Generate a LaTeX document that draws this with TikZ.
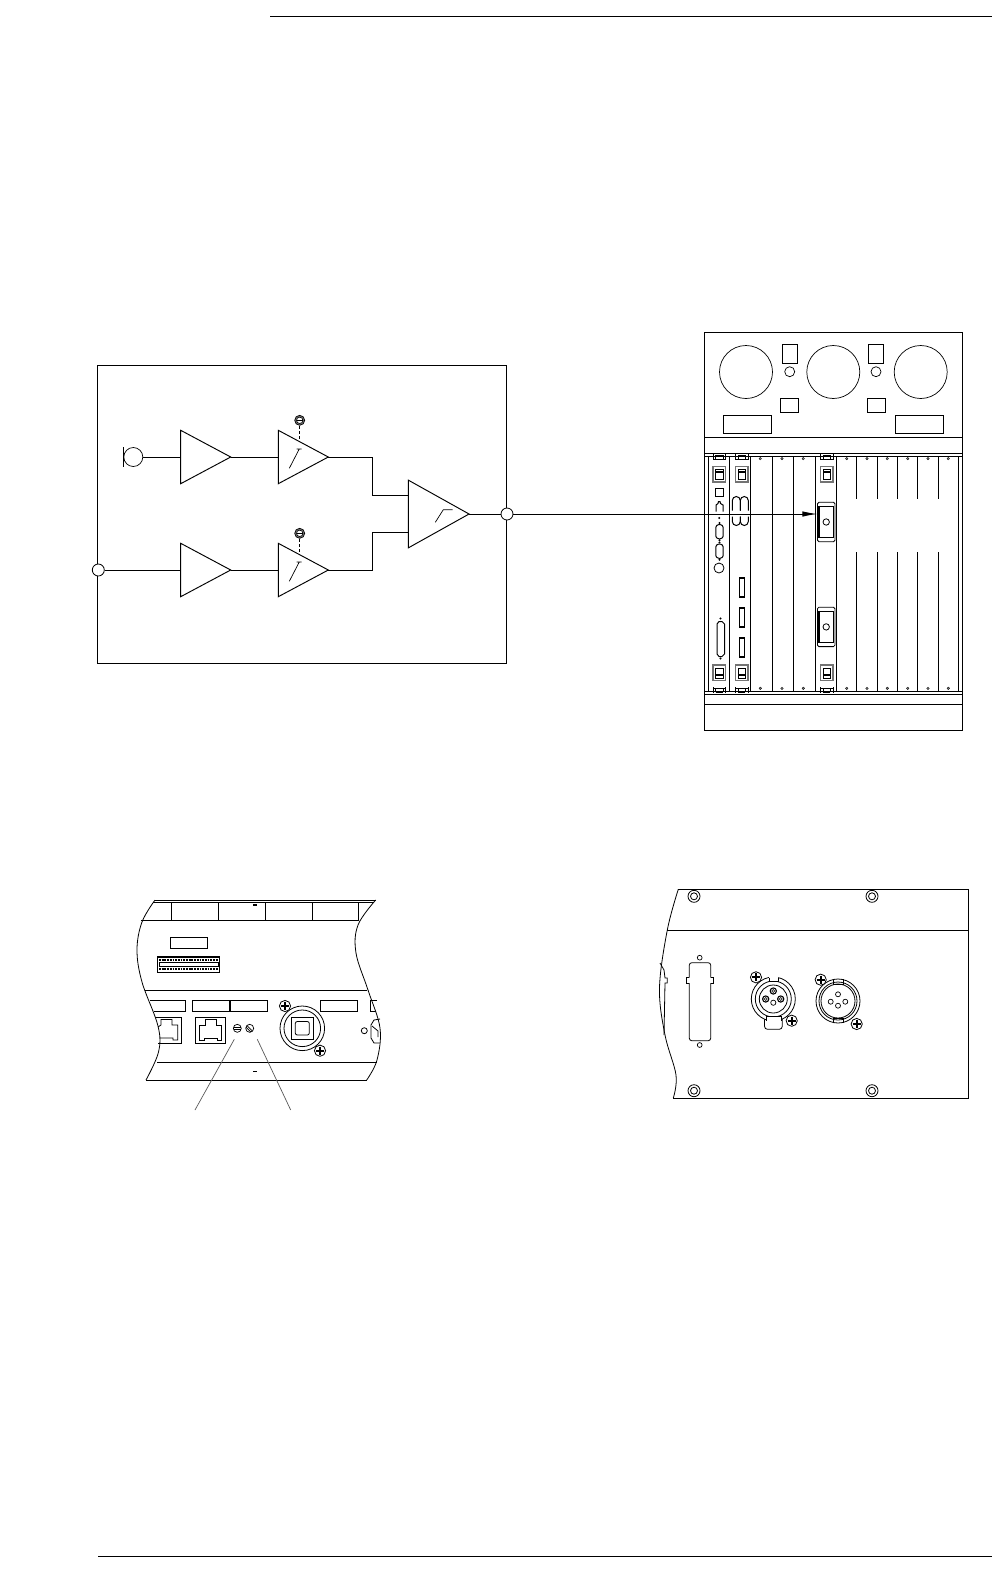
\documentclass[tikz,border=0pt]{standalone}
\usetikzlibrary{arrows.meta}
\tikzset{
  line/.style={draw=black,line width=0.95pt},
  thinline/.style={draw=black,line width=0.8pt},
  leader/.style={draw=black!65,line width=0.7pt},
  port/.style={circle,draw=black,fill=white,line width=0.8pt,inner sep=0pt,minimum size=12pt},
  ampbox/.style={inner sep=0pt,outer sep=0pt},
  hole/.style={draw=black,line width=0.7pt,fill=white},
  dot/.style={draw=black,fill=black!50,line width=0.3pt},
  screwx/.pic={
    \draw[line width=0.8pt,fill=white] (0,0) circle[radius=5.6pt];
    \draw[line width=2pt] (-4,0)--(4,0) (0,-4)--(0,4);
  },
  ringscrew/.pic={
    \draw[line width=0.8pt,fill=white] (0,0) circle[radius=6pt];
    \draw[line width=0.8pt] (0,0) circle[radius=3.5pt];
  },
  slotscrew/.pic={
    \draw[line width=0.7pt,fill=black!55] (0,0) circle[radius=5pt];
    \draw[line width=0.6pt,fill=white] (0,0) circle[radius=3.2pt];
    \draw[line width=1.6pt] (-3,0)--(3,0);
  },
  latch/.pic={
    \draw[draw=black!55,line width=1.1pt] (-6.3,-1.5) rectangle (6.3,14);
    \draw[line width=0.8pt] (-3.6,1) rectangle (3.6,11);
    \draw[line width=1.5pt] (-3.6,4)--(3.6,4);
    \draw[line width=0.9pt] (-6.3,-14)--(-6.3,-8) (6.3,-14)--(6.3,-8);
    \draw[line width=0.8pt] (-6.3,-9)--(6.3,-9) (-3.6,-13)--(3.6,-13) (-3.6,-13)--(-3.6,-9) (3.6,-13)--(3.6,-9);
  },
  dsub/.pic={
    \draw[line width=1pt,rounded corners=1pt] (-3.7,-5.5)--(-1.5,-7.5)--(1.5,-7.5)--(3.7,-5.5)--(3.7,5)--(1.5,6.8)--(-1.5,6.8)--(-3.7,5)--cycle;
    \fill (0,-9) circle[radius=1.1pt] (0,8.3) circle[radius=1.1pt];
  },
  blackd/.pic={
    \draw[line width=1.6pt] (-2.6,-9.5) rectangle (2.6,9.5);
    \fill[white] (-0.9,-7.5) rectangle (0.9,7.5);
  },
  slotmod/.pic={
    \draw[thinline,rounded corners=1.5pt] (-8.8,-19.7) rectangle (8.8,19.7);
    \draw[line width=1.7pt] (-7.3,-15.5) rectangle (7.3,15.5);
    \draw[line width=0.8pt] (0,0) circle[radius=3.2pt];
  }
}
\newcommand{\ampnode}[5]{%
  \node[ampbox,minimum width=#4pt,minimum height=#5pt] (#1) at (#2,#3) {};
  \draw[line,line join=miter] (#1.north west)--(#1.east)--(#1.south west)--cycle;
}
\begin{document}
\begin{tikzpicture}[x=1pt,y=-1pt]
\useasboundingbox (0,0) rectangle (992,1575);
\fill[white] (0,0) rectangle (992,1575);
% page rules
\draw[line width=0.95pt] (270,16)--(992,16);
\draw[line width=0.95pt] (98,1556.4)--(992,1556.4);

% block diagram
\draw[line] (97.3,365) rectangle (506.7,663);
\ampnode{a1}{205.7}{457}{50}{53.4}
\ampnode{a2}{303.3}{457}{50}{53.4}
\ampnode{b1}{205.7}{570}{50}{53.4}
\ampnode{b2}{303.3}{570}{50}{53.4}
\ampnode{mix}{438.7}{514}{60.7}{67.7}
\node[circle,draw=black,line width=0.7pt,inner sep=0pt,minimum size=19pt] (mic) at (133.3,457) {};
\draw[line] (123.3,447)--(123.3,466.7);
\node[port] (in) at (98.3,570) {};
\node[port] (out) at (507,514) {};
\coordinate (mixa) at (408.3,495.3);
\coordinate (mixb) at (408.3,532.3);
\draw[line] (mic.east)--(a1.west);
\draw[line] (a1.east)--(a2.west);
\draw[line] (in.east)--(b1.west);
\draw[line] (b1.east)--(b2.west);
\draw[line] (a2.east)-|(372.3,495.3)--(mixa);
\draw[line] (b2.east)-|(372.3,532.3)--(mixb);
\draw[line] (mix.east)--(out.west);
\foreach \dy in {0,113}{
  \begin{scope}[yshift=-\dy pt]
  \draw[line width=0.7pt] (289.3,468.3)--(299,449.5) (296.7,449)--(301.7,449);
  \draw[line width=0.8pt,dash pattern=on 3pt off 2pt] (299.7,426)--(299.7,442);
  \pic at (299.7,420.3) {slotscrew};
  \end{scope}
}
\draw[line width=0.7pt] (435.3,522.3)--(443.3,509.7)--(452.7,509.7);

% rack
\draw[line] (704.3,332.3) rectangle (962.3,730);
\draw[thinline] (704.3,437.3)--(962.3,437.3);
\draw[thinline] (704.3,453.3)--(962.3,453.3) (704.3,456)--(962.3,456);
\draw[thinline] (704.3,691.7)--(962.3,691.7) (704.3,694.3)--(962.3,694.3);
\draw[thinline] (704.3,704.3)--(962.3,704.3);
\foreach \x in {746,833.3,920.7} \draw[line width=0.7pt] (\x,372) circle[radius=26.5pt];
\foreach \x in {789.7,876} \draw[line width=0.7pt] (\x,371.7) circle[radius=5pt];
\draw[thinline] (782.3,344.3) rectangle (797.3,363.3);
\draw[thinline] (868.3,344.3) rectangle (883.3,363.3);
\draw[thinline] (780.3,398.3) rectangle (798.3,412.3);
\draw[thinline] (867.3,398.3) rectangle (885.3,412.3);
\draw[thinline] (723.3,415.3) rectangle (771.3,433.3);
\draw[thinline] (895.3,415.3) rectangle (943.3,433.3);
\foreach \x in {708.3,729.7,750.7,772.7,793.3,815.7,836.3,958.3}
  \draw[thinline] (\x,456)--(\x,691.7);
\foreach \x in {856.7,877.3,897.3,917.7,938.3}
  \draw[thinline] (\x,456)--(\x,499) (\x,552)--(\x,691.7);
\foreach \x in {760.3,782,803.3,846.7,867,887.3,907.7,928,948.3}{
  \draw[dot] (\x,458.6) circle[radius=1.3pt];
  \draw[dot] (\x,688.3) circle[radius=1.3pt];
}
\foreach \x in {719.3,741.7,826.7}{
  \pic at (\x,468) {latch};
  \pic[yscale=-1] at (\x,679) {latch};
}
\pic at (826.2,522) {slotmod};
\pic at (826.2,626.9) {slotmod};
% left card
\draw[thinline] (715.7,488.3) rectangle (723.7,496.7);
\draw[line width=1pt] (716,511.5)--(716,505)--(718,503.5)--(718.5,501.5)--(720,501.5)--(720.5,503.5)--(723,505)--(723,511.5);
\fill (719.3,518) circle[radius=1.1pt];
\pic at (719.5,532) {dsub};
\pic at (719.5,551.5) {dsub};
\draw[thinline] (719,568) circle[radius=5pt];
\draw[line width=1pt] (717,624)--(719,621.5)--(722,621.5)--(724.5,624)--(724.5,654)--(722,656.5)--(719,656.5)--(717,654)--cycle;
\fill (720.5,618.5) circle[radius=1.2pt] (720.5,658.5) circle[radius=1.2pt];
% second card
\draw[line width=1pt] (732.3,510.5)--(732.3,500.5) arc[start angle=180,end angle=0,radius=4pt]--(740.3,510.5);
\draw[line width=1pt] (740.3,510.5)--(740.3,500.5) arc[start angle=180,end angle=0,radius=4pt]--(748.3,510.5);
\draw[line width=1pt] (732.3,516.7)--(732.3,521.5) arc[start angle=180,end angle=360,radius=4pt]--(740.3,516.7);
\draw[line width=1pt] (740.3,516.7)--(740.3,521.5) arc[start angle=180,end angle=360,radius=4pt]--(748.3,516.7);
\foreach \y in {587.5,617.5,647.5} \pic at (742,\y) {blackd};

% arrow
\coordinate (slot) at (817.3,514);
\draw[line,-{Latex[length=15pt,width=5.5pt]}] (out.east)--(slot);

% lower left panel
\draw[line] (155,900)--(375.7,900);
\draw[thinline] (153,902.6)--(374,902.6);
\draw[line] (141,920)--(358.5,920);
\foreach \x in {171.3,218.7,265.3,312.3,358.3} \draw[thinline] (\x,902.6)--(\x,920);
\draw[line width=1.5pt] (253,905)--(257,905) (253,1071.7)--(257,1071.7);
\draw[thinline] plot[smooth,tension=0.6] coordinates {(155,900)(142,922)(137,950)(142,982)(158,1026)(158.5,1052)(146,1080)};
\draw[thinline] plot[smooth,tension=0.6] coordinates {(375.7,900)(358,925)(356,953)(368,990)(380,1028)(377,1060)(366.7,1080)};
\draw[line] (146,1080)--(366.7,1080);
\draw[line] (157,1062)--(377,1062);
\draw[line] (145,990)--(366.7,990);
\draw[thinline] (170,937.3) rectangle (207.7,948.3);
\draw[line width=1.1pt] (157.3,957) rectangle (219.3,972.3);
\draw[line width=2pt,dash pattern=on 1.8pt off 0.9pt] (159,960.3)--(218,960.3);
\draw[line width=2pt,dash pattern=on 1.8pt off 0.9pt] (159,969.2)--(218,969.2);
\draw[line width=1pt] (159,962.7)--(218,962.7)--(218,966.8)--(159,966.8)--cycle;
\draw[thinline] (150,1000.3)--(185,1000.3)--(185,1011.7)--(154,1011.7);
\draw[thinline] (192.3,1000.3) rectangle (230,1011.7);
\draw[thinline] (230,1000.3) rectangle (267.7,1011.7);
\draw[line width=1.5pt] (230,1000.3)--(230,1011.7);
\draw[thinline] (320,1000.3) rectangle (357.7,1011.7);
\draw[thinline] (377,1000.3)--(370,1000.3)--(370,1011.7)--(376,1011.7);
\draw[thinline] (195,1017) rectangle (225.7,1043.7);
\draw[thinline] (199,1040)--(199,1025)--(205,1025)--(205,1019.5)--(216,1019.5)--(216,1025)--(221.7,1025)--(221.7,1040)--(217,1040)--(217,1038)--(204,1038)--(204,1040)--cycle;
\draw[thinline] (155,1017)--(181.7,1017)--(181.7,1043.7)--(158,1043.7);
\draw[thinline] (158,1027)--(161,1025)--(161,1019.5)--(172,1019.5)--(172,1025)--(177.7,1025)--(177.7,1040)--(173,1040)--(173,1038)--(159,1038);
\draw[line width=0.7pt,fill=white] (237.3,1028.3) circle[radius=4pt];
\draw[line width=0.7pt] (233.5,1027.6)--(241,1027.6) (233.5,1029)--(241,1029);
\draw[line width=0.7pt,fill=white] (249.7,1028.3) circle[radius=4pt];
\draw[line width=0.7pt] (247,1025.5)--(252.5,1031) (246,1027)--(251,1032);
\draw[thinline] (302.3,1028.3) circle[radius=22.3pt];
\draw[thinline] (302.3,1028.3) circle[radius=18.3pt];
\draw[thinline] (291.3,1017.5) rectangle (313.3,1039);
\draw[thinline,rounded corners=2pt] (295.3,1021.5) rectangle (309.3,1035);
\pic at (285,1006) {screwx};
\pic at (320,1050.7) {screwx};
\draw[thinline] (364.3,1030.7) circle[radius=3pt];
\draw[thinline] (380,1019)--(374,1020)--(371,1025)--(371,1038)--(374,1043)--(379.5,1043);
\draw[thinline] (372,1026)--(378,1031)--(378,1037);
\coordinate (lead1a) at (234.3,1039.3);
\coordinate (lead1b) at (195,1110);
\coordinate (lead2a) at (257.3,1039.3);
\coordinate (lead2b) at (290.7,1110);
\draw[leader] (lead1a)--(lead1b);
\draw[leader] (lead2a)--(lead2b);

% lower right panel
\draw[line] (678.3,889.3)--(968.3,889.3)--(968.3,1098)--(673.3,1098);
\draw[line] (667.3,930)--(968.3,930);
\draw[thinline] plot[smooth,tension=0.6] coordinates {(678.3,889.3)(667.3,930)(659.5,988)(665,1035)(676,1075)(673.3,1098)};
\draw[thinline] (660,963)--(664,970)--(665,978)--(667.3,978)--(667.3,983)--(665,983)--(664,1035);
\foreach \x in {694,872} \foreach \y in {896.3,1090.7} \pic at (\x,\y) {ringscrew};
\draw[thinline,rounded corners=2.5pt] (700,962.7)--(710.7,962.7)--(710.7,977.5);
\draw[thinline,rounded corners=2.5pt] (700,962.7)--(689.3,962.7)--(689.3,977.5);
\draw[thinline,rounded corners=2.5pt] (700,1040.7)--(710.7,1040.7)--(710.7,983);
\draw[thinline,rounded corners=2.5pt] (700,1040.7)--(689.3,1040.7)--(689.3,983);
\draw[thinline] (710.7,977.5)--(713.5,977.5)--(713.5,983)--(710.7,983);
\draw[thinline] (689.3,977.5)--(686.5,977.5)--(686.5,983)--(689.3,983);
\draw[hole] (699.7,957.7) circle[radius=2.4pt];
\draw[hole] (699.7,1045) circle[radius=2.4pt];
% female XLR
\draw[thinline,fill=white,rounded corners=3pt] (764.5,1015)--(764.5,1029.3)--(782.3,1029.3)--(782.3,1015);
\draw[thinline,fill=white] (773.3,999) circle[radius=22pt];
\draw[thinline] (773.3,999) circle[radius=18pt];
\draw[thinline] (773.3,999) circle[radius=14pt];
\fill[white] (769,975) rectangle (778,982) (766,1016) rectangle (781,1024);
\draw[thinline] (769,977.5)--(769,981.5)--(778,981.5)--(778,977.5);
\draw[thinline] (766,1020.5)--(766,1016)--(781,1016)--(781,1020.5);
\foreach \p/\r in {765.7/999,780.7/999,773.3/991}{
  \draw[line width=1.1pt] (\p,\r) circle[radius=3.1pt];
  \draw[line width=0.6pt] (\p,\r) circle[radius=1.5pt];
}
\draw[hole] (773.3,1002.7) circle[radius=2.6pt];
\pic at (756,977.3) {screwx};
\pic at (791.7,1020.7) {screwx};
% male XLR
\draw[thinline] (838,1001) circle[radius=22pt];
\draw[thinline] (838,1001) circle[radius=19pt];
\draw[thinline] (838,1001) circle[radius=17pt];
\draw[thinline] (833,979)--(833,984)--(843,984)--(843,979);
\draw[thinline] (833,1023)--(833,1018)--(843,1018)--(843,1023);
\foreach \p/\r in {838/994.3,830.7/1001.7,845.3/1001.7,838/1005.7} \draw[hole] (\p,\r) circle[radius=2.5pt];
\pic at (820.7,979.7) {screwx};
\pic at (856.7,1024) {screwx};
\end{tikzpicture}
\end{document}
